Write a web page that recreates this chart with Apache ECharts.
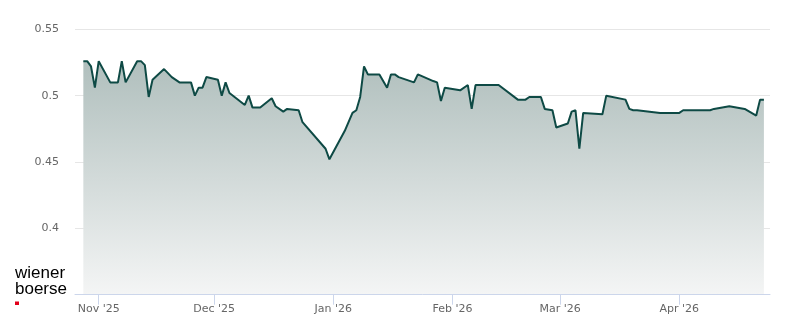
<!DOCTYPE html>
<html>
<head>
<meta charset="utf-8">
<script src="https://cdn.jsdelivr.net/npm/echarts@6/dist/echarts.min.js"></script>
<style>
html,body{margin:0;padding:0;background:#fff;}
#c{width:800px;height:324px;}
</style>
</head>
<body>
<div id="c"></div>
<script>
var dates = [
'2025-10-28','2025-10-29','2025-10-30','2025-10-31','2025-11-01','2025-11-04','2025-11-06','2025-11-07','2025-11-08',
'2025-11-11','2025-11-12','2025-11-13','2025-11-14','2025-11-15','2025-11-18','2025-11-20','2025-11-22','2025-11-25',
'2025-11-26','2025-11-27','2025-11-28','2025-11-29','2025-12-02','2025-12-03','2025-12-04','2025-12-05','2025-12-09',
'2025-12-10','2025-12-11','2025-12-13','2025-12-16','2025-12-17','2025-12-19','2025-12-20','2025-12-23','2025-12-24',
'2025-12-30','2025-12-31','2026-01-04','2026-01-06','2026-01-07','2026-01-08','2026-01-09','2026-01-10','2026-01-13',
'2026-01-15','2026-01-16','2026-01-17','2026-01-18','2026-01-22','2026-01-23','2026-01-27','2026-01-28','2026-01-29',
'2026-01-30','2026-02-03','2026-02-05','2026-02-06','2026-02-07','2026-02-13','2026-02-18','2026-02-20','2026-02-21',
'2026-02-24','2026-02-25','2026-02-27','2026-02-28','2026-03-03','2026-03-04','2026-03-05','2026-03-06','2026-03-07',
'2026-03-12','2026-03-13','2026-03-18','2026-03-19','2026-03-20','2026-03-21','2026-03-27','2026-04-01','2026-04-02',
'2026-04-09','2026-04-10','2026-04-14','2026-04-18','2026-04-21','2026-04-22','2026-04-23'
];
var prices = [
0.526,0.526,0.522,0.506,0.526,0.510,0.510,0.526,0.510,
0.526,0.526,0.523,0.499,0.512,0.520,0.514,0.510,0.510,
0.500,0.506,0.506,0.514,0.512,0.500,0.510,0.502,0.493,
0.500,0.491,0.491,0.498,0.492,0.488,0.490,0.489,0.480,
0.460,0.452,0.4735,0.487,0.489,0.499,0.522,0.516,0.516,
0.506,0.516,0.516,0.514,0.510,0.516,0.511,0.510,0.496,
0.506,0.504,0.508,0.490,0.508,0.508,0.497,0.497,0.499,
0.499,0.490,0.489,0.476,0.479,0.488,0.489,0.460,0.487,
0.486,0.500,0.497,0.490,0.489,0.489,0.487,0.487,0.489,
0.489,0.490,0.492,0.490,0.485,0.497,0.497
];
var yTicks = [0.35, 0.40, 0.45, 0.50, 0.55];
var months = ['Jan','Feb','Mar','Apr','May','Jun','Jul','Aug','Sep','Oct','Nov','Dec'];
var axisRange = ['2025-10-25 20:00', '2026-04-24 14:00'];

var chart = echarts.init(document.getElementById('c'), null, {renderer: 'canvas'});
var data = dates.map(function (d, i) { return [d, prices[i]]; });
chart.setOption({
  animation: false,
  grid: {left: 75, right: 30, top: 29.3, bottom: 29.3, containLabel: false},
  xAxis: {
    type: 'time',
    z: 5,
    min: axisRange[0],
    max: axisRange[1],
    splitNumber: 6,
    axisLine: {lineStyle: {color: '#ccd6eb', width: 1}},
    axisTick: {show: true, length: 10, lineStyle: {color: '#ccd6eb'}},
    minorTick: {show: false},
    splitLine: {show: false},
    axisLabel: {
      color: '#666666', fontSize: 11, fontFamily: 'DejaVu Sans', margin: 9,
      showMinLabel: false, showMaxLabel: false,
      formatter: function (v) {
        var d = new Date(v);
        return months[d.getMonth()] + " '" + String(d.getFullYear()).slice(2);
      }
    }
  },
  yAxis: {
    type: 'value',
    min: yTicks[0],
    max: yTicks[yTicks.length - 1],
    interval: 0.05,
    axisLine: {show: false},
    axisTick: {show: false},
    splitLine: {lineStyle: {color: '#e6e6e6', width: 1}},
    axisLabel: {
      color: '#666666', fontSize: 11, fontFamily: 'DejaVu Sans', margin: 16,
      showMinLabel: false,
      formatter: function (v) { return String(Math.round(v * 100) / 100); }
    }
  },
  series: [{
    type: 'line',
    data: data,
    showSymbol: false,
    symbol: 'none',
    lineStyle: {color: '#0e4a45', width: 2},
    areaStyle: {
      opacity: 1,
      color: new echarts.graphic.LinearGradient(0, 0, 0, 1, [
        {offset: 0, color: '#b0bfbd'},
        {offset: 1, color: '#f4f5f5'}
      ])
    }
  }],
  graphic: [
    {type: 'text', left: 15, top: 265, style: {text: 'wiener', fontSize: 17, fontFamily: 'Liberation Sans', fill: '#000'}},
    {type: 'text', left: 15, top: 281, style: {text: 'boerse', fontSize: 17, fontFamily: 'Liberation Sans', fill: '#000'}},
    {type: 'rect', shape: {x: 15, y: 301.5, width: 4, height: 3.5}, style: {fill: '#e2001a'}}
  ]
});
</script>
</body>
</html>
